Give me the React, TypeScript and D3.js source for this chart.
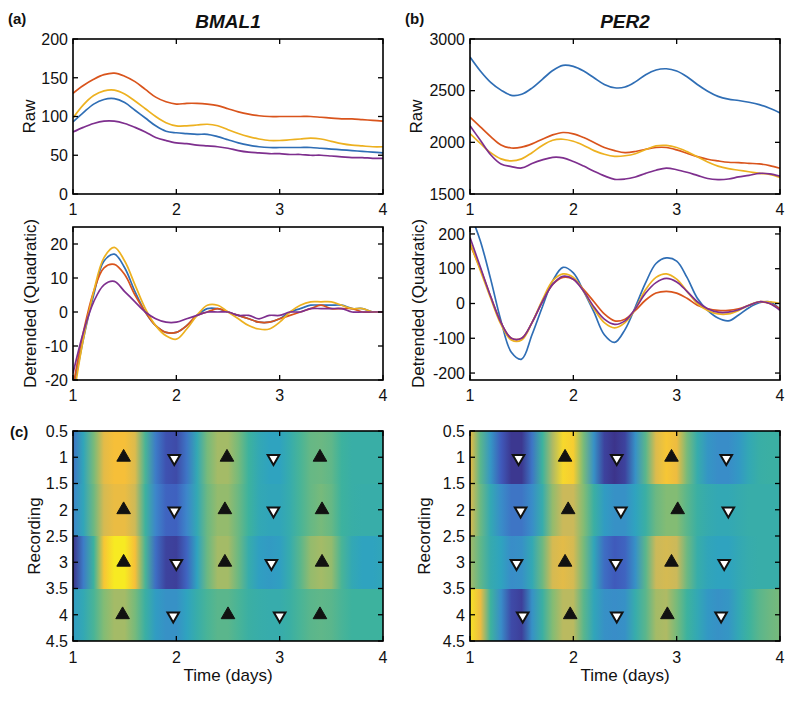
import * as d3 from "d3"

// time axis (days), one sample every 0.1 day
const TIME = [1.0, 1.1, 1.2, 1.3, 1.4, 1.5, 1.6, 1.7, 1.8, 1.9, 2.0, 2.1, 2.2, 2.3, 2.4, 2.5, 2.6, 2.7, 2.8, 2.9, 3.0, 3.1, 3.2, 3.3, 3.4, 3.5, 3.6, 3.7, 3.8, 3.9, 4.0]
const X_TICKS = [1, 2, 3, 4]

// (a) BMAL1 raw
const BMAL1_RAW_BLUE = [93, 105, 116, 122, 123, 118, 108, 98, 88, 81, 79, 78, 77, 77, 74, 70, 66, 63, 61, 60, 60, 60, 60, 60, 59, 58, 57, 56, 55, 54, 53]
const BMAL1_RAW_RED = [130, 140, 148, 154, 156, 152, 145, 135, 125, 119, 116, 117, 117, 116, 114, 110, 106, 103, 101, 100, 100, 100, 100, 100, 99, 98, 97, 97, 96, 95, 94]
const BMAL1_RAW_YELLOW = [98, 115, 127, 133, 134, 129, 120, 110, 100, 92, 88, 88, 89, 90, 88, 83, 78, 74, 71, 69, 69, 70, 71, 72, 71, 68, 65, 63, 62, 61, 61]
const BMAL1_RAW_PURPLE = [80, 86, 91, 94, 94, 91, 86, 80, 73, 69, 66, 65, 63, 62, 61, 59, 56, 54, 53, 52, 52, 51, 51, 50, 50, 49, 48, 47, 47, 46, 46]
const BMAL1_RAW_TICKS = [0, 50, 100, 150, 200]

// (b) PER2 raw
const PER2_RAW_BLUE = [2825, 2690, 2580, 2505, 2455, 2465, 2525, 2610, 2695, 2745, 2735, 2690, 2625, 2560, 2528, 2535, 2585, 2655, 2700, 2712, 2690, 2635, 2560, 2495, 2445, 2418, 2405, 2388, 2365, 2330, 2285]
const PER2_RAW_RED = [2244, 2150, 2056, 1975, 1945, 1953, 1985, 2030, 2072, 2095, 2082, 2046, 1998, 1950, 1920, 1901, 1911, 1933, 1950, 1950, 1927, 1894, 1862, 1836, 1820, 1807, 1804, 1797, 1791, 1775, 1749]
const PER2_RAW_YELLOW = [2085, 1990, 1900, 1840, 1820, 1840, 1900, 1970, 2020, 2030, 2010, 1970, 1920, 1885, 1865, 1870, 1890, 1930, 1965, 1970, 1950, 1910, 1860, 1810, 1770, 1745, 1730, 1715, 1700, 1690, 1660]
const PER2_RAW_PURPLE = [2160, 2020, 1880, 1790, 1765, 1752, 1795, 1830, 1855, 1850, 1815, 1770, 1720, 1675, 1642, 1645, 1665, 1700, 1730, 1750, 1735, 1710, 1680, 1650, 1640, 1645, 1665, 1680, 1700, 1695, 1672]
const PER2_RAW_TICKS = [1500, 2000, 2500, 3000]

// detrended (quadratic)
const BMAL1_DET_BLUE = [-24, -8, 5, 15, 17, 13, 6, 0, -4, -6, -6, -4, -1, 1, 1, 0, -1, -2, -3, -3, -2, 0, 1, 2, 2, 2, 2, 1, 1, 0, 0]
const BMAL1_DET_RED = [-22, -6, 6, 13, 14, 11, 5, 0, -4, -6, -6, -4, -1, 0, 1, 0, -1, -2, -3, -3, -2, -1, 0, 1, 2, 1, 1, 1, 0, 0, 0]
const BMAL1_DET_YELLOW = [-26, -8, 6, 16, 19, 15, 8, 1, -4, -7, -8, -5, -1, 2, 2, 0, -2, -4, -5, -5, -3, 0, 2, 3, 3, 3, 2, 1, 1, 0, 0]
const BMAL1_DET_PURPLE = [-18, -6, 3, 8, 9, 6, 3, 0, -2, -3, -3, -2, -1, 0, 0, 0, -1, -1, -2, -1, -1, 0, 0, 1, 1, 1, 1, 0, 0, 0, 0]
const BMAL1_DET_TICKS = [-20, -10, 0, 10, 20]

const PER2_DET_BLUE = [260, 180, 70, -50, -140, -160, -90, -10, 65, 104, 88, 35, -25, -90, -112, -75, -10, 60, 115, 131, 122, 75, 15, -20, -42, -50, -33, -12, 2, 5, -16]
const PER2_DET_RED = [170, 100, 20, -55, -100, -100, -55, 5, 55, 75, 70, 40, 5, -30, -50, -45, -20, 10, 30, 35, 30, 15, -5, -15, -20, -20, -15, -5, 5, 0, -15]
const PER2_DET_YELLOW = [175, 95, 15, -60, -105, -105, -55, 10, 65, 85, 75, 35, -15, -55, -70, -55, -15, 40, 75, 85, 70, 35, 0, -20, -30, -30, -20, -5, 5, 5, 0]
const PER2_DET_PURPLE = [190, 105, 20, -55, -100, -100, -55, 5, 55, 78, 70, 35, -10, -45, -60, -50, -15, 30, 60, 72, 62, 35, 5, -15, -25, -25, -18, -5, 5, 0, -20]
const PER2_DET_TICKS = [-200, -100, 0, 100, 200]

// (c) heat maps, normalised colour value per recording
const BMAL1_HEAT_1 = [0.2, 0.4, 0.6, 0.82, 0.88, 0.88, 0.8, 0.52, 0.22, 0.1, 0.08, 0.2, 0.42, 0.6, 0.68, 0.68, 0.6, 0.5, 0.42, 0.38, 0.38, 0.45, 0.52, 0.57, 0.58, 0.56, 0.5, 0.47, 0.47, 0.47, 0.47]
const BMAL1_HEAT_2 = [0.25, 0.4, 0.58, 0.78, 0.84, 0.84, 0.76, 0.5, 0.25, 0.15, 0.14, 0.25, 0.42, 0.58, 0.65, 0.65, 0.58, 0.5, 0.42, 0.4, 0.4, 0.45, 0.52, 0.57, 0.6, 0.57, 0.5, 0.47, 0.46, 0.46, 0.46]
const BMAL1_HEAT_3 = [0.02, 0.22, 0.5, 0.9, 1.0, 1.0, 0.88, 0.52, 0.18, 0.06, 0.05, 0.15, 0.38, 0.58, 0.68, 0.68, 0.58, 0.45, 0.36, 0.34, 0.36, 0.45, 0.55, 0.65, 0.68, 0.65, 0.52, 0.42, 0.38, 0.38, 0.4]
const BMAL1_HEAT_4 = [0.35, 0.42, 0.52, 0.62, 0.68, 0.68, 0.6, 0.48, 0.35, 0.3, 0.3, 0.38, 0.46, 0.52, 0.55, 0.55, 0.52, 0.48, 0.46, 0.45, 0.45, 0.48, 0.52, 0.55, 0.56, 0.55, 0.52, 0.5, 0.5, 0.5, 0.5]
const PER2_HEAT_1 = [0.85, 0.55, 0.32, 0.12, 0.03, 0.03, 0.2, 0.5, 0.7, 0.95, 0.92, 0.6, 0.3, 0.06, 0.02, 0.06, 0.3, 0.55, 0.8, 0.9, 0.85, 0.6, 0.45, 0.32, 0.28, 0.28, 0.33, 0.42, 0.47, 0.48, 0.48]
const PER2_HEAT_2 = [0.8, 0.58, 0.42, 0.28, 0.2, 0.2, 0.28, 0.45, 0.65, 0.75, 0.75, 0.62, 0.48, 0.35, 0.3, 0.3, 0.38, 0.48, 0.58, 0.62, 0.62, 0.55, 0.48, 0.44, 0.42, 0.42, 0.44, 0.46, 0.46, 0.46, 0.46]
const PER2_HEAT_3 = [0.68, 0.56, 0.44, 0.38, 0.28, 0.3, 0.42, 0.58, 0.78, 0.82, 0.78, 0.6, 0.4, 0.18, 0.12, 0.15, 0.3, 0.55, 0.75, 0.78, 0.75, 0.58, 0.46, 0.4, 0.38, 0.38, 0.42, 0.45, 0.46, 0.46, 0.46]
const PER2_HEAT_4 = [0.98, 0.85, 0.5, 0.28, 0.08, 0.05, 0.3, 0.48, 0.62, 0.72, 0.72, 0.55, 0.4, 0.3, 0.28, 0.3, 0.45, 0.55, 0.68, 0.7, 0.6, 0.5, 0.42, 0.33, 0.3, 0.32, 0.42, 0.5, 0.55, 0.58, 0.6]
const HEAT_Y_TICKS = [0.5, 1, 1.5, 2, 2.5, 3, 3.5, 4, 4.5]

// peak (black up triangle) / trough (white down triangle) times per recording
const BMAL1_PEAKS = [[1.49, 2.49, 3.39], [1.49, 2.47, 3.41], [1.49, 2.47, 3.41], [1.48, 2.5, 3.39]]
const BMAL1_TROUGHS = [[1.98, 2.94], [1.98, 2.94], [2.0, 2.92], [1.97, 3.0]]
const PER2_PEAKS = [[1.92, 2.95], [1.95, 3.01], [1.92, 2.95], [1.97, 2.91]]
const PER2_TROUGHS = [[1.47, 2.42, 3.48], [1.49, 2.46, 3.5], [1.45, 2.41, 3.46], [1.51, 2.42, 3.43]]

const SERIES_COLORS = ["#2f6eb5", "#d9541c", "#edb120", "#7e2f8e"]
// parula-like colour map, slightly muted as in the printed figure
const PARULA = ["#3b2c82", "#3f5cbd", "#3d86ca", "#2ea2c0", "#3db29e", "#86bc72", "#cbb95a", "#f6bd3a", "#f7ea22"]
const FONT = "'Liberation Sans', Arial, Helvetica, sans-serif"

const parula = d3
  .scaleLinear<string>()
  .domain(d3.range(PARULA.length).map((i) => i / (PARULA.length - 1)))
  .range(PARULA)
  .interpolate(d3.interpolateRgb)
  .clamp(true)

interface Box {
  left: number
  top: number
  width: number
  height: number
}

function XTicks({ box, x, labelY }: { box: Box; x: d3.ScaleLinear<number, number>; labelY: number }) {
  const bottom = box.top + box.height
  return (
    <g>
      {X_TICKS.map((t) => (
        <g key={t}>
          <line x1={x(t)} x2={x(t)} y1={bottom} y2={bottom - 5} stroke="#000" strokeWidth={1.3} />
          <line x1={x(t)} x2={x(t)} y1={box.top} y2={box.top + 5} stroke="#000" strokeWidth={1.3} />
          <text x={x(t)} y={labelY} textAnchor="middle" fontSize={16}>
            {t}
          </text>
        </g>
      ))}
    </g>
  )
}

function YTicks({ box, y, ticks }: { box: Box; y: d3.ScaleLinear<number, number>; ticks: number[] }) {
  const right = box.left + box.width
  return (
    <g>
      {ticks.map((t) => (
        <g key={t}>
          <line x1={box.left} x2={box.left + 5} y1={y(t)} y2={y(t)} stroke="#000" strokeWidth={1.3} />
          <line x1={right} x2={right - 5} y1={y(t)} y2={y(t)} stroke="#000" strokeWidth={1.3} />
          <text x={box.left - 5} y={y(t)} dy="0.36em" textAnchor="end" fontSize={16}>
            {String(t)}
          </text>
        </g>
      ))}
    </g>
  )
}

function LinePanel({
  id,
  box,
  yDomain,
  yTicks,
  series,
  ylabel,
  labelX,
}: {
  id: string
  box: Box
  yDomain: [number, number]
  yTicks: number[]
  series: number[][]
  ylabel: string
  labelX: number
}) {
  const x = d3.scaleLinear().domain([1, 4]).range([box.left, box.left + box.width])
  const y = d3.scaleLinear().domain(yDomain).range([box.top + box.height, box.top])
  const line = d3
    .line<number>()
    .x((_, i) => x(TIME[i]))
    .y((d) => y(d))
    .curve(d3.curveCatmullRom.alpha(0.5))
  return (
    <g>
      <clipPath id={id}>
        <rect x={box.left} y={box.top} width={box.width} height={box.height} />
      </clipPath>
      <g clipPath={`url(#${id})`}>
        {series.map((s, i) => (
          <path key={i} d={line(s) ?? ""} fill="none" stroke={SERIES_COLORS[i]} strokeWidth={1.7} strokeLinejoin="round" />
        ))}
      </g>
      <rect x={box.left} y={box.top} width={box.width} height={box.height} fill="none" stroke="#000" strokeWidth={1.6} />
      <XTicks box={box} x={x} labelY={box.top + box.height + 21} />
      <YTicks box={box} y={y} ticks={yTicks} />
      <text
        transform={`translate(${labelX},${box.top + box.height / 2}) rotate(-90)`}
        textAnchor="middle"
        dy="0.35em"
        fontSize={17}
      >
        {ylabel}
      </text>
    </g>
  )
}

function HeatPanel({
  id,
  box,
  rows,
  peaks,
  troughs,
  labelX,
}: {
  id: string
  box: Box
  rows: number[][]
  peaks: number[][]
  troughs: number[][]
  labelX: number
}) {
  const x = d3.scaleLinear().domain([1, 4]).range([box.left, box.left + box.width])
  const y = d3.scaleLinear().domain([0.5, 4.5]).range([box.top, box.top + box.height])
  const up = d3.symbol(d3.symbolTriangle, 80)() ?? ""
  const down = d3.symbol(d3.symbolTriangle, 58)() ?? ""
  return (
    <g>
      <defs>
        {rows.map((vals, r) => (
          <linearGradient key={r} id={`${id}-g${r}`} gradientUnits="userSpaceOnUse" x1={x(1)} x2={x(4)} y1={0} y2={0}>
            {vals.map((v, i) => (
              <stop key={i} offset={(TIME[i] - 1) / 3} stopColor={parula(v)} />
            ))}
          </linearGradient>
        ))}
      </defs>
      {rows.map((_, r) => {
        const y0 = Math.round(y(r + 0.5))
        const y1 = Math.round(y(r + 1.5))
        return (
          <rect
            key={r}
            x={box.left}
            y={y0}
            width={box.width}
            height={y1 - y0 + (r < rows.length - 1 ? 1 : 0)}
            fill={`url(#${id}-g${r})`}
            shapeRendering="crispEdges"
          />
        )
      })}
      {peaks.map((row, r) =>
        row.map((t, k) => <path key={`p${r}-${k}`} d={up} transform={`translate(${x(t)},${y(r + 1)})`} fill="#111" stroke="#111" strokeWidth={1} />),
      )}
      {troughs.map((row, r) =>
        row.map((t, k) => (
          <path
            key={`t${r}-${k}`}
            d={down}
            transform={`translate(${x(t)},${y(r + 1) + 1}) rotate(180)`}
            fill="#fff"
            stroke="#111"
            strokeWidth={2}
          />
        )),
      )}
      <rect x={box.left} y={box.top} width={box.width} height={box.height} fill="none" stroke="#000" strokeWidth={1.6} />
      <XTicks box={box} x={x} labelY={box.top + box.height + 22} />
      <YTicks box={box} y={y} ticks={HEAT_Y_TICKS} />
      <text
        transform={`translate(${labelX},${box.top + box.height / 2}) rotate(-90)`}
        textAnchor="middle"
        dy="0.35em"
        fontSize={17}
      >
        Recording
      </text>
      <text x={box.left + box.width / 2} y={box.top + box.height + 40} textAnchor="middle" fontSize={17}>
        Time (days)
      </text>
    </g>
  )
}

export default function App() {
  const leftX = 73
  const rightX = 470
  const w = 310
  const rawTop = { top: 39, height: 155 }
  const detTop = { top: 227, height: 153 }
  const heatTop = { top: 431, height: 210 }

  return (
    <svg
      width={800}
      height={701}
      viewBox="0 0 800 701"
      style={{ position: "absolute", left: 0, top: 0, background: "#fff" }}
      fontFamily={FONT}
      fill="#111"
    >
      <rect width={800} height={701} fill="#fff" />
      <text x={8} y={24} fontSize={15} fontWeight="bold">
        (a)
      </text>
      <text x={405} y={24} fontSize={15} fontWeight="bold">
        (b)
      </text>
      <text x={10} y={437} fontSize={15} fontWeight="bold">
        (c)
      </text>
      <text x={leftX + w / 2} y={28} textAnchor="middle" fontSize={19} fontWeight="bold" fontStyle="italic">
        BMAL1
      </text>
      <text x={rightX + w / 2} y={28} textAnchor="middle" fontSize={19} fontWeight="bold" fontStyle="italic">
        PER2
      </text>

      <LinePanel
        id="a-raw"
        box={{ left: leftX, width: w, ...rawTop }}
        yDomain={[0, 200]}
        yTicks={BMAL1_RAW_TICKS}
        series={[BMAL1_RAW_BLUE, BMAL1_RAW_RED, BMAL1_RAW_YELLOW, BMAL1_RAW_PURPLE]}
        ylabel="Raw"
        labelX={29}
      />
      <LinePanel
        id="b-raw"
        box={{ left: rightX, width: w, ...rawTop }}
        yDomain={[1500, 3000]}
        yTicks={PER2_RAW_TICKS}
        series={[PER2_RAW_BLUE, PER2_RAW_RED, PER2_RAW_YELLOW, PER2_RAW_PURPLE]}
        ylabel="Raw"
        labelX={416}
      />
      <LinePanel
        id="a-det"
        box={{ left: leftX, width: w, ...detTop }}
        yDomain={[-20, 25]}
        yTicks={BMAL1_DET_TICKS}
        series={[BMAL1_DET_BLUE, BMAL1_DET_RED, BMAL1_DET_YELLOW, BMAL1_DET_PURPLE]}
        ylabel="Detrended (Quadratic)"
        labelX={30}
      />
      <LinePanel
        id="b-det"
        box={{ left: rightX, width: w, ...detTop }}
        yDomain={[-220, 220]}
        yTicks={PER2_DET_TICKS}
        series={[PER2_DET_BLUE, PER2_DET_RED, PER2_DET_YELLOW, PER2_DET_PURPLE]}
        ylabel="Detrended (Quadratic)"
        labelX={418}
      />
      <HeatPanel
        id="a-heat"
        box={{ left: leftX, width: w, ...heatTop }}
        rows={[BMAL1_HEAT_1, BMAL1_HEAT_2, BMAL1_HEAT_3, BMAL1_HEAT_4]}
        peaks={BMAL1_PEAKS}
        troughs={BMAL1_TROUGHS}
        labelX={34}
      />
      <HeatPanel
        id="b-heat"
        box={{ left: rightX, width: w, ...heatTop }}
        rows={[PER2_HEAT_1, PER2_HEAT_2, PER2_HEAT_3, PER2_HEAT_4]}
        peaks={PER2_PEAKS}
        troughs={PER2_TROUGHS}
        labelX={424}
      />
    </svg>
  )
}
